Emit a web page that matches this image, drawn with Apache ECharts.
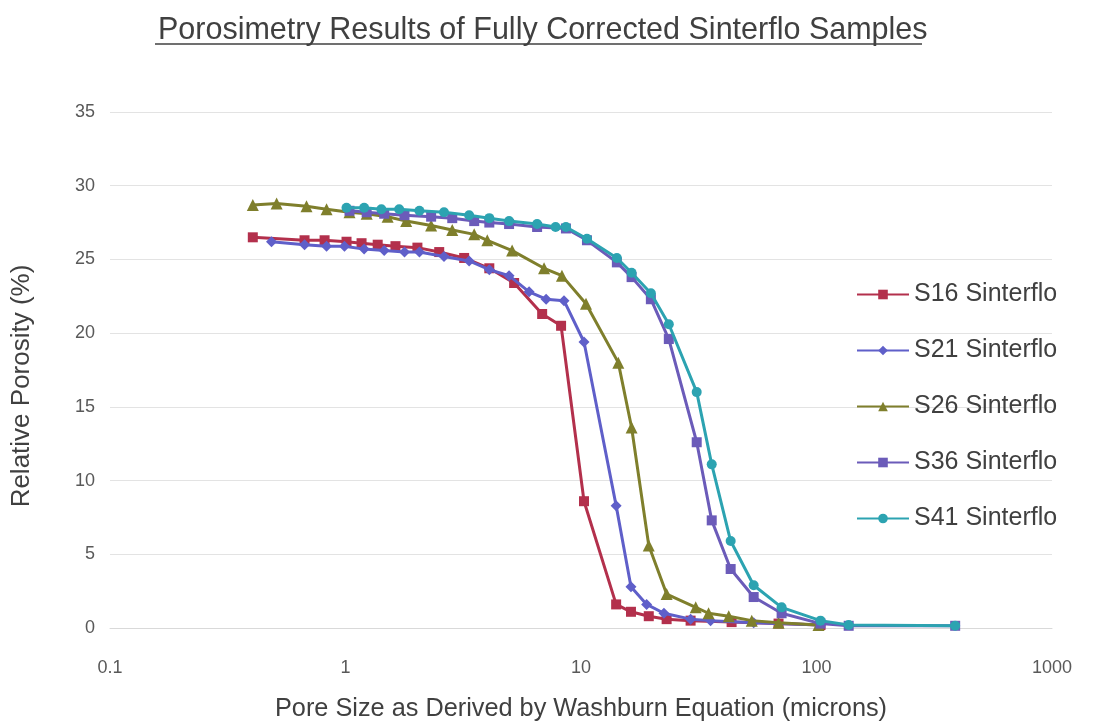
<!DOCTYPE html>
<html>
<head>
<meta charset="utf-8">
<title>Porosimetry Results</title>
<script src="https://cdn.jsdelivr.net/npm/echarts@6/dist/echarts.min.js"></script>
<style type="text/css">
	html, body { margin: 0; padding: 0; background: #ffffff; }
	div#chart { width: 1096px; height: 722px; }
</style>
</head>
<body>
<div id="chart"></div>
<script type="text/javascript">
// pore size (microns) and relative porosity (%) per sample
var s16x = [0.404, 0.67, 0.815, 1.01, 1.17, 1.37, 1.63, 2.02, 2.50, 3.19, 4.08, 5.20, 6.84, 8.23, 10.3, 14.1, 16.3, 19.4, 23.1, 29.2, 43.6, 69.0, 104];
var s16y = [26.5, 26.3, 26.3, 26.2, 26.1, 26.0, 25.9, 25.8, 25.5, 25.1, 24.4, 23.4, 21.3, 20.5, 8.6, 1.6, 1.1, 0.8, 0.6, 0.5, 0.4, 0.3, 0.2];

var s21x = [0.485, 0.67, 0.831, 0.99, 1.20, 1.46, 1.78, 2.06, 2.62, 3.35, 4.08, 4.95, 6.02, 7.11, 8.47, 10.3, 14.1, 16.3, 19.0, 22.5, 29.2, 35.5, 54.1, 104];
var s21y = [26.2, 26.0, 25.9, 25.9, 25.7, 25.6, 25.5, 25.5, 25.2, 24.9, 24.3, 23.9, 22.8, 22.3, 22.2, 19.4, 8.3, 2.8, 1.6, 1.0, 0.6, 0.5, 0.35, 0.2];

var s26x = [0.404, 0.51, 0.683, 0.831, 1.04, 1.23, 1.51, 1.81, 2.31, 2.84, 3.52, 4.0, 5.10, 6.97, 8.30, 10.5, 14.4, 16.4, 19.4, 23.1, 30.7, 34.8, 42.4, 53.1, 69.0, 102];
var s26y = [28.7, 28.8, 28.6, 28.4, 28.2, 28.1, 27.9, 27.6, 27.3, 27.0, 26.7, 26.3, 25.6, 24.4, 23.9, 22.0, 18.0, 13.6, 5.6, 2.3, 1.4, 1.0, 0.8, 0.5, 0.35, 0.2];

var s36x = [1.04, 1.23, 1.46, 1.78, 2.31, 2.84, 3.52, 4.08, 4.95, 6.51, 8.63, 10.6, 14.2, 16.4, 19.8, 23.6, 31.0, 35.9, 43.2, 54.1, 71.1, 104, 137, 388];
var s36y = [28.3, 28.2, 28.1, 28.0, 27.9, 27.8, 27.6, 27.5, 27.4, 27.2, 27.1, 26.3, 24.8, 23.8, 22.3, 19.6, 12.6, 7.3, 4.0, 2.1, 1.0, 0.3, 0.15, 0.15];

var s41x = [1.01, 1.20, 1.42, 1.69, 2.06, 2.62, 3.35, 4.08, 4.95, 6.51, 7.8, 8.63, 10.6, 14.2, 16.4, 19.8, 23.6, 31.0, 35.9, 43.2, 54.1, 71.1, 104, 137, 388];
var s41y = [28.5, 28.5, 28.4, 28.4, 28.3, 28.2, 28.0, 27.8, 27.6, 27.4, 27.2, 27.2, 26.4, 25.1, 24.1, 22.7, 20.6, 16.0, 11.1, 5.9, 2.9, 1.4, 0.5, 0.2, 0.15];

var names = ['S16 Sinterflo', 'S21 Sinterflo', 'S26 Sinterflo', 'S36 Sinterflo', 'S41 Sinterflo'];
var colors = ['#b3304c', '#5f5fc9', '#7f7f2c', '#6b5bb9', '#2ca3b1'];
var symbols = ['rect', 'diamond', 'triangle', 'rect', 'circle'];
var symbolSizes = [10, 11, 12, 10, 10];
var yTicks = [0, 5, 10, 15, 20, 25, 30, 35];

function pairs(xs, ys) {
	var out = [];
	for (var i = 0; i < xs.length; i++) out.push([xs[i], ys[i]]);
	return out;
}
var allData = [pairs(s16x, s16y), pairs(s21x, s21y), pairs(s26x, s26y), pairs(s36x, s36y), pairs(s41x, s41y)];

var font = 'Liberation Sans, Arial, sans-serif';
var series = [];
for (var k = 0; k < names.length; k++) {
	series.push({
		name: names[k],
		type: 'line',
		data: allData[k],
		symbol: symbols[k],
		symbolSize: symbolSizes[k],
		lineStyle: { width: 3, color: colors[k] },
		itemStyle: { color: colors[k] },
		z: 2 + k
	});
}

var myChart = echarts.init(document.getElementById('chart'));
var option = {
	backgroundColor: '#ffffff',
	animation: false,
	color: colors,
	title: {
		text: 'Porosimetry Results of Fully Corrected Sinterflo Samples',
		left: 153,
		top: 10,
		textStyle: { fontFamily: font, fontSize: 30.5, fontWeight: 'normal', color: '#404040' }
	},
	graphic: [{ // title underline
		type: 'line',
		shape: { x1: 155, y1: 44, x2: 922, y2: 44 },
		style: { stroke: '#404040', lineWidth: 1.5 }
	}, { // y axis title, placed a little below the plot centre as in the original
		type: 'text',
		x: 22,
		y: 386,
		rotation: Math.PI / 2,
		style: {
			text: 'Relative Porosity (%)',
			font: '26px ' + font,
			fill: '#404040',
			align: 'center',
			verticalAlign: 'middle'
		}
	}],
	legend: {
		orient: 'vertical',
		left: 851,
		top: 277,
		itemWidth: 52,
		itemHeight: 12,
		itemGap: 31,
		textStyle: { fontFamily: font, fontSize: 25, color: '#404040' },
		data: names
	},
	grid: { left: 110, right: 44, top: 112, bottom: 94, containLabel: false, outerBoundsMode: 'none' },
	xAxis: {
		type: 'log',
		logBase: 10,
		min: 0.1,
		max: 1000,
		name: 'Pore Size as Derived by Washburn Equation (microns)',
		nameLocation: 'middle',
		nameGap: 69,
		nameTextStyle: { fontFamily: font, fontSize: 25.3, color: '#404040' },
		axisLine: { show: true, lineStyle: { color: '#d9d9d9' } },
		axisTick: { show: false },
		minorTick: { show: false },
		splitLine: { show: false },
		axisLabel: {
			margin: 31,
			fontFamily: font,
			fontSize: 18,
			color: '#595959',
			formatter: function (v) { return String(v); }
		}
	},
	yAxis: {
		type: 'value',
		min: yTicks[0],
		max: yTicks[yTicks.length - 1],
		interval: 5,
		axisLine: { show: false },
		axisTick: { show: false },
		splitLine: { lineStyle: { color: '#e3e3e3', width: 1 } },
		axisLabel: { margin: 15, fontFamily: font, fontSize: 18, color: '#595959' }
	},
	series: series
};
myChart.setOption(option);
</script>
</body>
</html>
